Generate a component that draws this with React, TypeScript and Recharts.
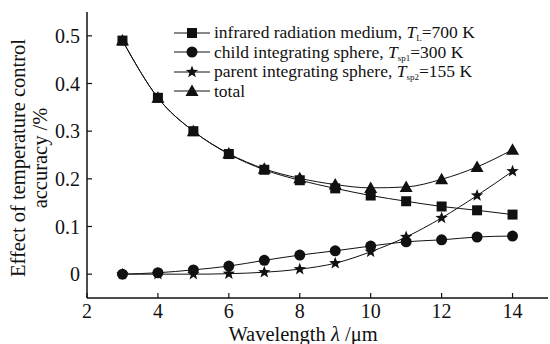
import React from 'react';
import { LineChart, Line, XAxis, YAxis } from 'recharts';

// wavelength (um)
const wavelengths = [3, 4, 5, 6, 7, 8, 9, 10, 11, 12, 13, 14];
// effect of each source on temperature control accuracy (%)
const infrared = [0.49, 0.37, 0.3, 0.252, 0.219, 0.197, 0.18, 0.165, 0.153, 0.142, 0.134, 0.125];
const childSphere = [0, 0.003, 0.009, 0.017, 0.029, 0.04, 0.049, 0.059, 0.068, 0.072, 0.078, 0.08];
const parentSphere = [0, 0, 0, 0.001, 0.004, 0.0105, 0.023, 0.047, 0.078, 0.118, 0.165, 0.216];
const total = [0.49, 0.37, 0.3, 0.253, 0.221, 0.201, 0.188, 0.181, 0.183, 0.199, 0.225, 0.261];
const xTicks = [2, 4, 6, 8, 10, 12, 14];
const yTicks = [0, 0.1, 0.2, 0.3, 0.4, 0.5];

const data = wavelengths.map((w, i) => ({
  w,
  infrared: infrared[i],
  child: childSphere[i],
  parent: parentSphere[i],
  total: total[i],
}));

const FONT = '"Liberation Serif", "DejaVu Serif", serif';
const INK = '#111';

type Shape = 'square' | 'circle' | 'star' | 'triangle';

const marker = (shape: Shape, cx: number, cy: number, key?: string | number) => {
  if (shape === 'square') {
    return <rect key={key} x={cx - 5} y={cy - 5} width={10} height={10} fill={INK} />;
  }
  if (shape === 'circle') {
    return <circle key={key} cx={cx} cy={cy} r={5.5} fill={INK} />;
  }
  if (shape === 'triangle') {
    return <path key={key} d={`M${cx},${cy - 6.5} L${cx + 6.5},${cy + 5} L${cx - 6.5},${cy + 5} Z`} fill={INK} />;
  }
  const pts: string[] = [];
  for (let i = 0; i < 10; i++) {
    const r = i % 2 === 0 ? 6.5 : 2.7;
    const a = -Math.PI / 2 + (i * Math.PI) / 5;
    pts.push(`${cx + r * Math.cos(a)},${cy + r * Math.sin(a)}`);
  }
  return <polygon key={key} points={pts.join(' ')} fill={INK} />;
};

const dotFor = (shape: Shape) => (props: any) => {
  const { cx, cy, index } = props;
  if (cx == null || cy == null) return <g key={index} />;
  return marker(shape, cx, cy, index);
};

const subStyle: React.CSSProperties = { fontSize: 9, verticalAlign: -3, lineHeight: 0 };

const legendRows: { shape: Shape; label: React.ReactNode }[] = [
  {
    shape: 'square',
    label: (
      <>
        infrared radiation medium, <i>T</i>
        <span style={subStyle}>L</span>=700 K
      </>
    ),
  },
  {
    shape: 'circle',
    label: (
      <>
        child integrating sphere, <i>T</i>
        <span style={subStyle}>sp1</span>=300 K
      </>
    ),
  },
  {
    shape: 'star',
    label: (
      <>
        parent integrating sphere, <i>T</i>
        <span style={subStyle}>sp2</span>=155 K
      </>
    ),
  },
  { shape: 'triangle', label: <>total</> },
];

const tickStyle = { fontFamily: FONT, fontSize: 20, fill: INK };
const labelStyle = { fontFamily: FONT, fontSize: 20.5, fill: INK };

export default function App() {
  return (
    <div style={{ position: 'fixed', left: 0, top: 0, width: 550, height: 344, background: '#fff' }}>
      <LineChart width={550} height={344} data={data} margin={{ top: 12, right: 2, bottom: 0, left: 0 }}>
        <XAxis
          dataKey="w"
          type="number"
          domain={[2, 15]}
          ticks={xTicks}
          tickSize={-5}
          tickMargin={11}
          height={46}
          axisLine={{ stroke: INK, strokeWidth: 1.5 }}
          tickLine={{ stroke: INK, strokeWidth: 1.2 }}
          tick={tickStyle}
          allowDataOverflow
        />
        <YAxis
          type="number"
          domain={[-0.05, 0.55]}
          ticks={yTicks}
          tickFormatter={(v: number) => String(v)}
          tickSize={-5}
          tickMargin={12}
          width={87}
          axisLine={{ stroke: INK, strokeWidth: 1.5 }}
          tickLine={{ stroke: INK, strokeWidth: 1.2 }}
          tick={tickStyle}
          allowDataOverflow
        />
        <Line dataKey="infrared" type="monotone" stroke={INK} strokeWidth={1} dot={dotFor('square')} isAnimationActive={false} />
        <Line dataKey="child" type="monotone" stroke={INK} strokeWidth={1} dot={dotFor('circle')} isAnimationActive={false} />
        <Line dataKey="parent" type="monotone" stroke={INK} strokeWidth={1} dot={dotFor('star')} isAnimationActive={false} />
        <Line dataKey="total" type="monotone" stroke={INK} strokeWidth={1} dot={dotFor('triangle')} isAnimationActive={false} />
        <text x={18} y={158} transform="rotate(-90 18 158)" textAnchor="middle" dominantBaseline="central" style={labelStyle}>
          Effect of temperature control
        </text>
        <text x={40} y={158} transform="rotate(-90 40 158)" textAnchor="middle" dominantBaseline="central" style={labelStyle}>
          accuracy /%
        </text>
        <text x={303} y={334} textAnchor="middle" dominantBaseline="central" style={labelStyle}>
          Wavelength <tspan fontStyle="italic">λ</tspan> /μm
        </text>
      </LineChart>
      <div style={{ position: 'absolute', left: 174, top: 23, fontFamily: FONT, fontSize: 17.5, color: INK }}>
        {legendRows.map((row, i) => (
          <div key={i} style={{ display: 'flex', alignItems: 'center', height: 19.5, lineHeight: '19.5px' }}>
            <svg width={40} height={16} style={{ flex: 'none' }}>
              <line x1={0} y1={8} x2={36} y2={8} stroke={INK} strokeWidth={1} />
              {marker(row.shape, 18, 8)}
            </svg>
            <span style={{ whiteSpace: 'nowrap' }}>{row.label}</span>
          </div>
        ))}
      </div>
    </div>
  );
}
